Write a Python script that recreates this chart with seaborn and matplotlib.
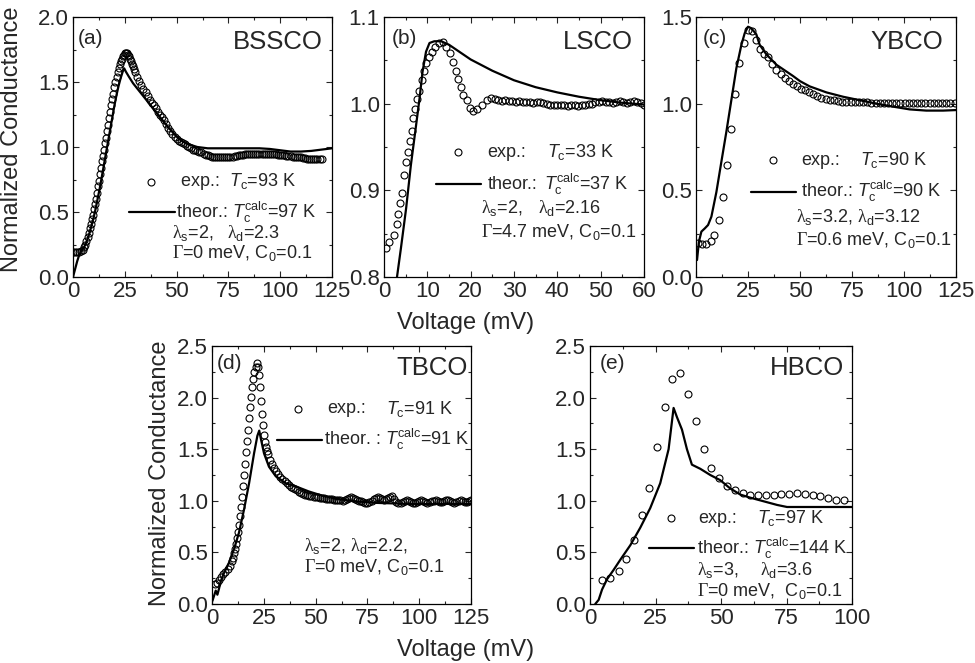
import matplotlib
matplotlib.use("Agg")
import matplotlib.pyplot as plt
import seaborn as sns
from matplotlib.ticker import MultipleLocator, FormatStrFormatter

# ---------------- data ----------------
# (a) BSSCO
bsco_exp_v = [0, 1, 2, 3, 4, 5, 5.5, 6, 6.5, 7, 7.5, 8, 8.5, 9, 9.5, 10, 10.5, 11, 11.5, 12,
              12.5, 13, 13.5, 14, 14.5, 15, 15.5, 16, 16.5, 17, 17.5, 18, 18.5, 19, 19.5, 20,
              20.5, 21, 21.5, 22, 22.5, 23, 23.5, 24, 24.5, 25, 25.5, 26, 26.5, 27, 27.5, 28,
              28.5, 29, 29.5, 30, 31, 32, 33, 34, 35, 36, 37, 38, 39, 40, 41, 42, 43, 44, 45,
              46, 47, 48, 49, 50, 51, 52, 53, 54, 55, 56, 57, 58, 59, 60, 61, 62, 63, 64, 65,
              66, 67, 68, 69, 70, 71, 72, 73, 74, 75, 76, 77, 78, 79, 80, 81, 82, 83, 84, 85,
              86, 87, 88, 89, 90, 91, 92, 93, 94, 95, 96, 97, 98, 99, 100, 101, 102, 103, 104,
              105, 106, 107, 108, 109, 110, 111, 112, 113, 114, 115, 116, 117, 118, 119, 120]
bsco_exp_g = [0.19, 0.19, 0.19, 0.19, 0.20, 0.21, 0.23, 0.25, 0.28, 0.31, 0.34, 0.38, 0.41, 0.45,
              0.48, 0.52, 0.56, 0.60, 0.65, 0.70, 0.74, 0.79, 0.84, 0.89, 0.93, 0.98, 1.03, 1.07,
              1.12, 1.17, 1.22, 1.27, 1.32, 1.37, 1.41, 1.46, 1.50, 1.54, 1.58, 1.61, 1.64, 1.66,
              1.68, 1.70, 1.71, 1.72, 1.72, 1.72, 1.71, 1.70, 1.68, 1.66, 1.64, 1.62, 1.60, 1.58,
              1.54, 1.51, 1.48, 1.45, 1.42, 1.39, 1.36, 1.34, 1.32, 1.30, 1.27, 1.25, 1.23, 1.21,
              1.18, 1.15, 1.12, 1.10, 1.08, 1.06, 1.05, 1.04, 1.03, 1.02, 1.01, 1.00, 0.99, 0.98,
              0.975, 0.97, 0.965, 0.96, 0.95, 0.94, 0.935, 0.93, 0.925, 0.92, 0.92, 0.92, 0.92,
              0.92, 0.92, 0.92, 0.92, 0.925, 0.925, 0.93, 0.93, 0.935, 0.94, 0.94, 0.945, 0.945,
              0.95, 0.95, 0.95, 0.95, 0.95, 0.95, 0.95, 0.95, 0.95, 0.95, 0.95, 0.95, 0.945, 0.945,
              0.94, 0.94, 0.935, 0.935, 0.93, 0.93, 0.93, 0.925, 0.925, 0.92, 0.92, 0.92, 0.915,
              0.915, 0.91, 0.91, 0.91, 0.91, 0.91, 0.91, 0.91, 0.91]
bsco_th_v = [0, 1, 2, 3, 4, 5, 6, 7, 8, 9, 10, 11, 12, 13, 14, 15, 16, 17, 18, 19, 20, 21, 22, 23,
             24, 24.7, 25.5, 27, 29, 31, 33, 35, 38, 40, 43, 46, 50, 53, 56, 60, 65, 70, 80, 90,
             95, 100, 105, 110, 115, 120, 125]
bsco_th_g = [0.0, 0.06, 0.12, 0.17, 0.20, 0.22, 0.25, 0.29, 0.34, 0.40, 0.46, 0.53, 0.61, 0.69,
             0.78, 0.87, 0.96, 1.05, 1.14, 1.23, 1.32, 1.40, 1.47, 1.53, 1.58, 1.605, 1.58, 1.54,
             1.49, 1.45, 1.41, 1.37, 1.31, 1.27, 1.21, 1.15, 1.08, 1.04, 1.02, 1.00, 0.99, 0.99,
             0.99, 0.99, 0.985, 0.975, 0.965, 0.965, 0.97, 0.98, 0.99]

# (b) LSCO
lsco_exp_v = [0.5, 1.2, 2.3, 2.9, 3.3, 3.7, 4.1, 4.6, 5.1, 5.6, 6.0, 6.4, 6.8, 7.1, 7.7, 8.1, 8.7,
              9.3, 9.8, 10.4, 11.0, 11.8, 12.8, 13.7, 14.4, 15.2, 16.0, 16.6, 17.1, 17.7, 18.3,
              19.1, 19.8, 20.6, 21.4, 22.5, 23.7, 24.8, 25.6, 26.4, 27.2, 28.0, 28.8, 29.6, 30.4,
              31.2, 32.0, 32.8, 33.6, 34.4, 35.2, 36.0, 36.8, 37.6, 38.4, 39.2, 40.0, 40.8, 41.6,
              42.4, 43.2, 44.0, 44.8, 45.6, 46.4, 47.2, 48.0, 48.8, 49.6, 50.4, 51.2, 52.0, 52.8,
              53.6, 54.4, 55.2, 56.0, 56.8, 57.6, 58.4, 59.2, 60.0]
lsco_exp_g = [0.833, 0.840, 0.848, 0.861, 0.873, 0.885, 0.897, 0.918, 0.933, 0.944, 0.957, 0.968,
              0.983, 0.994, 1.005, 1.015, 1.027, 1.038, 1.047, 1.054, 1.060, 1.065, 1.070, 1.071,
              1.065, 1.058, 1.048, 1.038, 1.029, 1.019, 1.010, 1.004, 0.995, 0.992, 0.994, 0.998,
              1.004, 1.006, 1.005, 1.004, 1.003, 1.004, 1.003, 1.003, 1.002, 1.003, 1.002, 1.002,
              1.002, 1.001, 1.002, 1.002, 1.001, 1.000, 0.999, 0.998, 0.999, 0.998, 0.998, 0.997,
              0.998, 0.998, 0.997, 0.998, 0.999, 1.000, 1.000, 1.002, 1.002, 1.003, 1.002, 1.002,
              1.001, 1.002, 1.003, 1.002, 1.001, 1.002, 1.003, 1.002, 1.001, 0.999]
lsco_th_v = [3.0, 3.9, 5.1, 6.2, 7.4, 8.2, 8.9, 9.7, 10.5, 11.6, 13.2, 15.0, 20.0, 25.0, 30.0,
             35.0, 40.0, 45.0, 50.0, 55.0, 60.0]
lsco_th_g = [0.800, 0.833, 0.879, 0.929, 0.975, 1.006, 1.037, 1.060, 1.070, 1.072, 1.072, 1.068,
             1.051, 1.038, 1.027, 1.019, 1.013, 1.008, 1.004, 1.001, 0.999]

# (c) YBCO
ybco_exp_v = [0.8, 2.9, 4.8, 7.0, 8.8, 10.9, 12.8, 14.9, 16.8, 18.9, 20.8, 22.9, 25.0, 27.1, 29.0,
              30.8, 32.7, 34.8, 36.7, 38.6, 40.7, 42.6, 44.6, 46.5, 48.4, 50.3, 52.4, 54.3, 56.3,
              58.3, 60.3, 62.3, 64.3, 66.3, 68.3, 70.2, 72.3, 74.3, 76.3, 78.3, 80.3, 82.3, 84.3,
              86.3, 88.3, 90.3, 92.3, 94.3, 96.3, 98.3, 100.3, 102.3, 104.3, 106.3, 108.3, 110.3,
              112.3, 114.3, 116.3, 118.3, 120.3, 122.3, 124.3]
ybco_exp_g = [0.196, 0.192, 0.192, 0.208, 0.244, 0.327, 0.462, 0.648, 0.856, 1.058, 1.235, 1.352,
              1.427, 1.419, 1.369, 1.313, 1.288, 1.269, 1.231, 1.196, 1.169, 1.148, 1.129, 1.112,
              1.100, 1.087, 1.077, 1.065, 1.054, 1.044, 1.035, 1.027, 1.023, 1.019, 1.015, 1.012,
              1.010, 1.008, 1.008, 1.007, 1.007, 1.007, 1.006, 1.006, 1.006, 1.006, 1.006, 1.006,
              1.006, 1.006, 1.006, 1.006, 1.006, 1.006, 1.006, 1.006, 1.006, 1.006, 1.006, 1.006,
              1.006, 1.006, 1.006]
ybco_th_v = [0.5, 1.4, 2.6, 4.2, 5.8, 7.4, 9.8, 12.2, 14.6, 17.0, 19.4, 21.8, 23.4, 25.0, 26.6,
             29.0, 30.6, 33.8, 38.6, 46.6, 50.0, 54.6, 62.7, 70.7, 78.7, 86.7, 94.7, 102.7, 110.7,
             118.8, 125.0]
ybco_th_g = [0.098, 0.204, 0.262, 0.280, 0.300, 0.348, 0.490, 0.665, 0.838, 1.021, 1.204, 1.338,
             1.406, 1.444, 1.435, 1.400, 1.340, 1.285, 1.225, 1.160, 1.130, 1.100, 1.065, 1.040,
             1.020, 1.000, 0.983, 0.967, 0.960, 0.960, 0.963]

# (d) TBCO
tbco_exp_v = [1.5, 2.5, 3.5, 4.5, 5.5, 6.5, 7.5, 8.5, 9.5, 10, 10.5, 11, 11.5, 12, 12.5, 13, 13.5,
              14, 14.5, 15, 15.5, 16, 16.5, 17, 17.5, 18, 18.5, 19, 19.5, 20, 20.5, 21, 21.5, 22,
              22.5, 23, 23.5, 24, 24.5, 25, 25.5, 26, 26.5, 27, 28, 29, 30, 31, 32, 33, 34, 35,
              36, 37, 38, 39, 40, 41, 42, 43, 44, 45, 46, 47, 48, 49, 50, 51, 52, 53, 54, 55, 56,
              57, 58, 59, 60, 61, 62, 63, 64, 65, 66, 67, 68, 69, 70, 71, 72, 73, 74, 75, 76, 77,
              78, 79, 80, 81, 82, 83, 84, 85, 86, 87, 88, 89, 90, 91, 92, 93, 94, 95, 96, 97, 98,
              99, 100, 101, 102, 103, 104, 105, 106, 107, 108, 109, 110, 111, 112, 113, 114, 115,
              116, 117, 118, 119, 120, 121, 122, 123, 124, 125]
tbco_exp_g = [0.19, 0.20, 0.23, 0.26, 0.29, 0.31, 0.34, 0.37, 0.42, 0.45, 0.49, 0.53, 0.58, 0.64,
              0.70, 0.77, 0.85, 0.94, 1.04, 1.14, 1.25, 1.36, 1.47, 1.58, 1.69, 1.80, 1.91, 2.01,
              2.10, 2.18, 2.25, 2.30, 2.34, 2.30, 2.22, 2.10, 1.97, 1.84, 1.73, 1.64, 1.57, 1.52,
              1.48, 1.45, 1.40, 1.36, 1.32, 1.29, 1.26, 1.23, 1.21, 1.19, 1.17, 1.15, 1.13, 1.12,
              1.11, 1.10, 1.09, 1.08, 1.07, 1.06, 1.06, 1.05, 1.05, 1.04, 1.04, 1.04, 1.03, 1.03,
              1.03, 1.02, 1.02, 1.02, 1.02, 1.01, 1.01, 1.01, 1.01, 1.00, 1.01, 1.02, 1.03, 1.04,
              1.03, 1.02, 1.01, 1.00, 1.00, 0.99, 0.98, 0.98, 0.99, 1.00, 1.02, 1.03, 1.04, 1.03,
              1.02, 1.01, 1.02, 1.03, 1.04, 1.05, 1.02, 0.99, 0.98, 0.98, 0.99, 1.00, 1.01, 1.00,
              0.99, 0.98, 0.98, 0.99, 1.00, 1.01, 1.00, 0.99, 0.98, 0.99, 1.00, 1.00, 1.01, 1.00,
              0.99, 0.99, 1.00, 1.01, 1.01, 1.00, 0.99, 0.98, 0.99, 1.00, 1.01, 1.00, 0.99, 0.99,
              1.00, 1.01]
tbco_th_v = [0.2, 1.0, 1.8, 2.6, 3.4, 4.2, 5.8, 8.2, 10.6, 13.0, 15.4, 17.9, 20.3, 21.9, 22.8,
             23.6, 25.1, 27.5, 30.7, 35.6, 40.4, 46.8, 53.2, 59.6, 69.2, 79.0, 95.0, 111.0, 125.0]
tbco_th_g = [0.03, 0.08, 0.13, 0.09, 0.15, 0.22, 0.30, 0.40, 0.53, 0.69, 0.91, 1.17, 1.46, 1.63,
             1.68, 1.60, 1.46, 1.33, 1.24, 1.17, 1.14, 1.09, 1.05, 1.02, 0.995, 0.98, 0.97, 0.97,
             0.97]

# (e) HBCO
hbco_exp_v = [4.6, 7.8, 10.9, 13.7, 16.8, 19.8, 22.4, 25.6, 28.6, 31.4, 34.5, 37.4, 40.3, 43.4,
              46.3, 49.4, 52.3, 55.2, 58.3, 61.2, 64.1, 67.2, 70.1, 73.0, 76.1, 79.0, 81.9, 85.0,
              87.9, 90.8, 93.9, 96.8]
hbco_exp_g = [0.229, 0.252, 0.323, 0.439, 0.620, 0.859, 1.121, 1.521, 1.906, 2.180, 2.238, 2.032,
              1.770, 1.505, 1.318, 1.221, 1.147, 1.105, 1.072, 1.059, 1.053, 1.053, 1.059, 1.063,
              1.066, 1.076, 1.069, 1.059, 1.043, 1.027, 1.011, 1.008]
hbco_th_v = [2.0, 3.3, 4.6, 6.5, 9.0, 11.6, 15.4, 19.2, 23.0, 26.8, 30.0, 31.9, 33.2, 35.1, 37.0,
             38.9, 42.1, 45.9, 49.7, 53.5, 57.4, 61.2, 66.3, 71.4, 75.2, 81.6, 87.9, 100.0]
hbco_th_g = [0.0, 0.04, 0.14, 0.24, 0.33, 0.43, 0.57, 0.74, 0.93, 1.17, 1.50, 1.90, 1.81, 1.69,
             1.50, 1.35, 1.31, 1.25, 1.20, 1.12, 1.06, 1.03, 0.995, 0.96, 0.94, 0.94, 0.94, 0.94]

# ---------------- style ----------------
sns.set_style("ticks")
plt.rcParams["font.family"] = ["Liberation Sans", "DejaVu Sans"]
plt.rcParams["mathtext.fontset"] = "custom"
plt.rcParams["mathtext.rm"] = "Liberation Sans"
plt.rcParams["mathtext.it"] = "Liberation Sans:italic"
plt.rcParams["mathtext.sf"] = "Liberation Serif"

W, H = 975, 663
fig = plt.figure(figsize=(W / 100, H / 100), dpi=100)


def px_axes(left, top, right, bottom):
    return fig.add_axes([left / W, 1 - bottom / H, (right - left) / W, (bottom - top) / H])


LAM = r"$\mathsf{\lambda}$"
GAM = r"$\mathsf{\Gamma}$"
TC = r"$T_\mathrm{c}$"
TCALC = r"$T_\mathrm{c}^\mathrm{calc}$"
TXT = 13


def panel(ax, exp_v, exp_g, th_v, th_g, xlim, ylim, xmaj, ymaj, tag, name):
    sns.lineplot(x=exp_v, y=exp_g, ax=ax, estimator=None, sort=False, linestyle="none",
                 marker="o", markersize=5.0, markerfacecolor="none", markeredgecolor="black",
                 markeredgewidth=0.8, color="black")
    sns.lineplot(x=th_v, y=th_g, ax=ax, estimator=None, sort=False, color="black", linewidth=1.6)
    ax.set_xlim(*xlim)
    ax.set_ylim(*ylim)
    ax.xaxis.set_major_locator(MultipleLocator(xmaj))
    ax.xaxis.set_minor_locator(MultipleLocator(xmaj / 2))
    ax.yaxis.set_major_locator(MultipleLocator(ymaj))
    ax.yaxis.set_minor_locator(MultipleLocator(ymaj / 2))
    ax.yaxis.set_major_formatter(FormatStrFormatter("%.1f"))
    ax.tick_params(which="both", direction="in", top=True, right=True, width=0.8,
                   labelsize=16, pad=3)
    ax.tick_params(which="major", length=4)
    ax.tick_params(which="minor", length=2.5)
    for s in ax.spines.values():
        s.set_linewidth(0.9)
        s.set_color("black")
    ax.set_xlabel("")
    ax.set_ylabel("")
    ax.text(tag[0], tag[1], tag[2], transform=ax.transAxes, fontsize=15, va="center", ha="left")
    ax.text(name[0], name[1], name[2], transform=ax.transAxes, fontsize=18.5, va="center",
            ha="right")


def legend_block(ax, mk, ln, texts):
    ax.plot([mk[0]], [mk[1]], "o", transform=ax.transAxes, markersize=5.0,
            markerfacecolor="none", markeredgecolor="black", markeredgewidth=0.8, clip_on=False)
    ax.plot([ln[0], ln[1]], [ln[2], ln[2]], color="black", linewidth=1.6,
            transform=ax.transAxes, clip_on=False)
    for (x, y, s) in texts:
        ax.text(x, y, s, transform=ax.transAxes, fontsize=TXT, va="center")


# (a)
ax_a = px_axes(73, 17, 332, 277)
panel(ax_a, bsco_exp_v, bsco_exp_g, bsco_th_v, bsco_th_g, (0, 125), (0, 2.0), 25, 0.5,
      (0.019, 0.919, "(a)"), (0.965, 0.905, "BSSCO"))
legend_block(ax_a, (0.300, 0.367), (0.215, 0.394, 0.25),
             [(0.413, 0.367, "exp.:  " + TC + "=93 K"),
              (0.398, 0.25, "theor.: " + TCALC + "=97 K"),
              (0.381, 0.169, LAM + r"$_\mathrm{s}$=2,"),
              (0.593, 0.169, LAM + r"$_\mathrm{d}$=2.3"),
              (0.381, 0.092, GAM + r"=0 meV, C$_0$=0.1")])

# (b)
ax_b = px_axes(384, 17, 644, 277)
panel(ax_b, lsco_exp_v, lsco_exp_g, lsco_th_v, lsco_th_g, (0, 60), (0.8, 1.1), 10, 0.1,
      (0.03, 0.918, "(b)"), (0.956, 0.905, "LSCO"))
legend_block(ax_b, (0.286, 0.48), (0.2, 0.373, 0.357),
             [(0.399, 0.48, "exp.:"), (0.627, 0.48, TC + "=33 K"),
              (0.399, 0.357, "theor.:"), (0.617, 0.357, TCALC + "=37 K"),
              (0.373, 0.264, LAM + r"$_\mathrm{s}$=2,"),
              (0.591, 0.264, LAM + r"$_\mathrm{d}$=2.16"),
              (0.373, 0.174, GAM + r"=4.7 meV, C$_0$=0.1")])

# (c)
ax_c = px_axes(696, 17, 956, 277)
panel(ax_c, ybco_exp_v, ybco_exp_g, ybco_th_v, ybco_th_g, (0, 125), (0, 1.5), 25, 0.5,
      (0.027, 0.918, "(c)"), (0.95, 0.905, "YBCO"))
legend_block(ax_c, (0.296, 0.45), (0.213, 0.386, 0.328),
             [(0.405, 0.45, "exp.:"), (0.63, 0.45, TC + "=90 K"),
              (0.405, 0.328, "theor.: " + TCALC + "=90 K"),
              (0.383, 0.232, LAM + r"$_\mathrm{s}$=3.2, " + LAM + r"$_\mathrm{d}$=3.12"),
              (0.383, 0.142, GAM + r"=0.6 meV, C$_0$=0.1")])

# (d)
ax_d = px_axes(212, 346, 471, 604)
panel(ax_d, tbco_exp_v, tbco_exp_g, tbco_th_v, tbco_th_g, (0, 125), (0, 2.5), 25, 0.5,
      (0.02, 0.934, "(d)"), (0.986, 0.915, "TBCO"))
legend_block(ax_d, (0.333, 0.757), (0.252, 0.426, 0.637),
             [(0.445, 0.757, "exp.:"), (0.671, 0.757, TC + "=91 K"),
              (0.432, 0.637, "theor. : " + TCALC + "=91 K"),
              (0.355, 0.224, LAM + r"$_\mathrm{s}$=2, " + LAM + r"$_\mathrm{d}$=2.2,"),
              (0.355, 0.143, GAM + r"=0 meV, C$_0$=0.1")])

# (e)
ax_e = px_axes(590, 346, 852, 604)
panel(ax_e, hbco_exp_v, hbco_exp_g, hbco_th_v, hbco_th_g, (0, 100), (0, 2.5), 25, 0.5,
      (0.039, 0.934, "(e)"), (0.971, 0.915, "HBCO"))
legend_block(ax_e, (0.309, 0.333), (0.224, 0.396, 0.217),
             [(0.415, 0.333, "exp.:"), (0.637, 0.333, TC + "=97 K"),
              (0.408, 0.217, "theor.: " + TCALC + "=144 K"),
              (0.408, 0.133, LAM + r"$_\mathrm{s}$=3,"),
              (0.65, 0.133, LAM + r"$_\mathrm{d}$=3.6"),
              (0.408, 0.049, GAM + r"=0 meV,  C$_0$=0.1")])

# shared axis titles
fig.text(12 / W, 1 - 139 / H, "Normalized Conductance", rotation=90, ha="center", va="center",
         fontsize=17)
fig.text(160 / W, 1 - 473 / H, "Normalized Conductance", rotation=90, ha="center", va="center",
         fontsize=17)
fig.text(466 / W, 1 - 329 / H, "Voltage (mV)", ha="center", va="baseline", fontsize=17)
fig.text(466 / W, 1 - 656 / H, "Voltage (mV)", ha="center", va="baseline", fontsize=17)

fig.savefig("out.png", dpi=100)
